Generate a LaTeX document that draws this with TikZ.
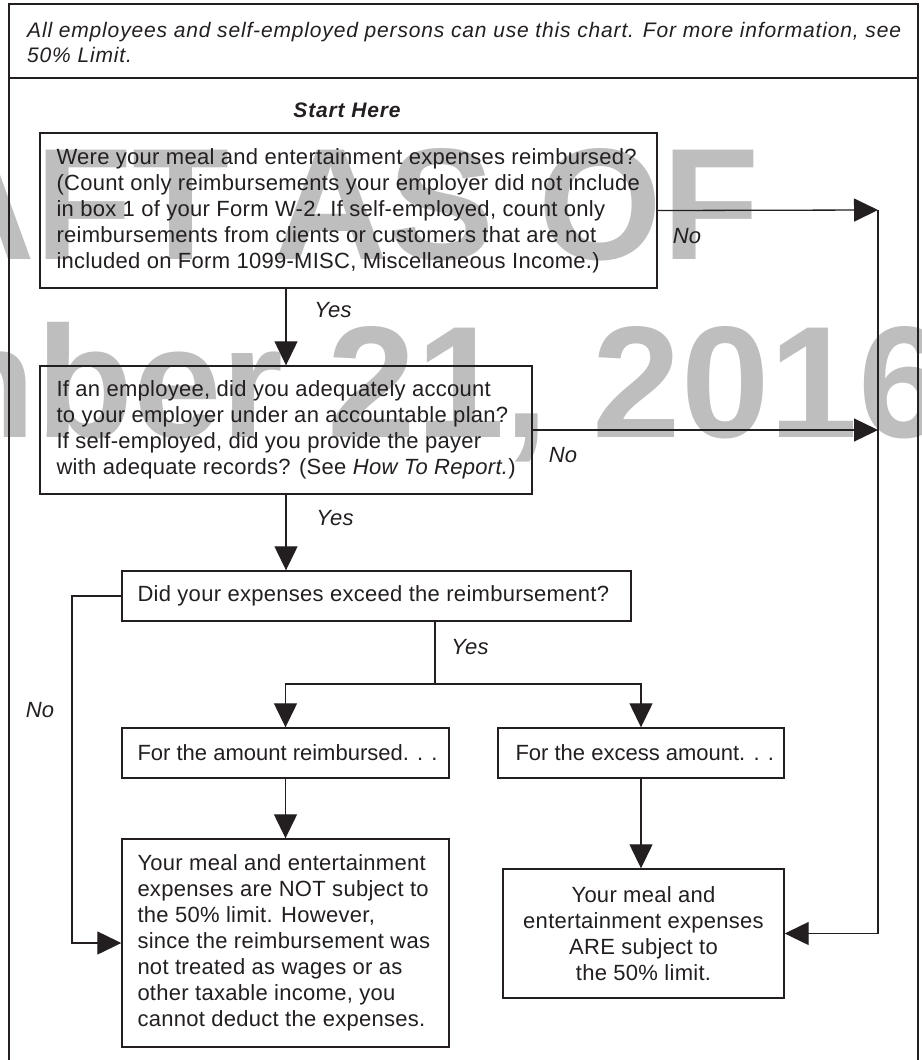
\documentclass[tikz,border=0pt]{standalone}
\usepackage{fontspec}
\setmainfont{Liberation Sans}
\newfontfamily\bodyfam[LetterSpace=1.3]{Liberation Sans}
\newfontfamily\tightfam{Liberation Sans}
\newfontfamily\headfam[LetterSpace=4]{Liberation Sans}
\newfontfamily\wmfam{Liberation Sans}
\usetikzlibrary{arrows.meta}
\definecolor{wm}{RGB}{190,190,190}
\definecolor{ink}{RGB}{35,31,32}
\newcommand\bodyfont{\bodyfam\fontsize{22}{26}\selectfont}
\newcommand\tightfont{\tightfam\fontsize{22}{26}\selectfont}
\newcommand\labfont{\bodyfam\itshape\fontsize{22}{26}\selectfont}
\newcommand\headfont{\headfam\itshape\fontsize{21}{25}\selectfont}
\begin{document}
\begin{tikzpicture}[x=1pt,y=-1pt,
  box/.style={draw=ink, line width=1.4pt, inner sep=0pt},
  txt/.style={inner sep=0pt, text=ink, font=\bodyfont, align=left, anchor=west},
  conn/.style={draw=ink, line width=1.3pt},
  arr/.style={conn, -{Triangle[length=24pt,width=23pt]}},
  lab/.style={font=\labfont, text=ink, inner sep=0pt},
  wmark/.style={font=\wmfam\bfseries\fontsize{159}{159}\selectfont, text=wm, inner sep=0pt}
]
\useasboundingbox (0,0) rectangle (921,1060);
\fill[white] (0,0) rectangle (921,1060);
% watermark
\node[wmark, anchor=base east] (wm1) at (760,259) {DRAFT AS OF};
\node[wmark, anchor=base east] (wm2) at (947,437) {November 21, 2016};
% frame
\draw[ink, line width=1.3pt] (9,1070) -- (9,4) -- (918,4) -- (918,1070);
\draw[ink, line width=1.3pt] (9,78) -- (918,78);
\node[anchor=north west, inner sep=0pt, align=left, font=\headfont, text=ink] (head) at (27,22)
  {All employees and self-employed persons can use this chart. For more information, see\\50\% Limit.};
\node[inner sep=0pt, font=\headfam\bfseries\itshape\fontsize{21}{25}\selectfont, text=ink] (start) at (347,110) {Start Here};
% boxes
\node[box, minimum width=617pt, minimum height=155pt] (q1) at (348.5,210.5) {};
\node[txt] (q1t) at ([xshift=17pt]q1.west)
  {Were your meal and entertainment expenses reimbursed?\\
   (Count only reimbursements your employer did not include\\
   in box 1 of your Form W-2. If self-employed, count only\\
   reimbursements from clients or customers that are not\\
   included on Form 1099-MISC, Miscellaneous Income.)};
\node[box, minimum width=492pt, minimum height=128pt] (q2) at (286,430) {};
\node[txt] (q2t) at ([xshift=17pt]q2.west)
  {If an employee, did you adequately account\\
   to your employer under an accountable plan?\\
   If self-employed, did you provide the payer\\
   with adequate records? (See \textit{How To Report.})};
\node[box, minimum width=509pt, minimum height=50pt] (q3) at (376.5,596) {};
\node[txt] (q3t) at ([xshift=16pt]q3.west) {Did your expenses exceed the reimbursement?};
\node[box, minimum width=327pt, minimum height=50pt] (q4) at (285.5,753) {};
\node[txt, font=\tightfont] (q4t) at ([xshift=16pt]q4.west) {For the amount reimbursed. . .};
\node[box, minimum width=286pt, minimum height=50pt] (q5) at (641,753) {};
\node[txt, font=\tightfont] (q5t) at ([xshift=18pt]q5.west) {For the excess amount. . .};
\node[box, minimum width=327pt, minimum height=208pt] (q6) at (285.5,943) {};
\node[txt] (q6t) at ([xshift=16pt]q6.west)
  {Your meal and entertainment\\
   expenses are NOT subject to\\
   the 50\% limit. However,\\
   since the reimbursement was\\
   not treated as wages or as\\
   other taxable income, you\\
   cannot deduct the expenses.};
\node[box, minimum width=281pt, minimum height=129pt] (q7) at (643.5,933.5) {};
\node[txt, align=center, anchor=center] (q7t) at (q7.center)
  {Your meal and\\
   entertainment expenses\\
   ARE subject to\\
   the 50\% limit.};
% connectors
\coordinate (r1) at (878,210);
\coordinate (yb) at (435,684);
\coordinate (nl) at (72,596);
\draw[arr] (q2.north |- q1.south) -- (q2.north);
\draw[arr] (q1.east) -- (r1);
\draw[arr] (q2.east) -- (q2.east -| r1);
\draw[arr] (r1) |- (q7.east);
\draw[arr] (q2.south) -- (q2.south |- q3.north);
\draw[conn] (yb |- q3.south) -- (yb);
\draw[arr] (yb) -| (q4.north);
\draw[arr] (yb) -| (q5.north);
\draw[arr] (q3.west) -- (nl) |- (q6.west);
\draw[arr] (q4.south) -- (q6.north);
\draw[arr] (q5.south) -- (q5.south |- q7.north);
% labels
\node[lab] (y1) at (333,310) {Yes};
\node[lab] (n1) at (687,236) {No};
\node[lab] (n2) at (563,455) {No};
\node[lab] (y2) at (335,518) {Yes};
\node[lab] (y3) at (470,647) {Yes};
\node[lab] (n3) at (40,710) {No};
\end{tikzpicture}
\end{document}
